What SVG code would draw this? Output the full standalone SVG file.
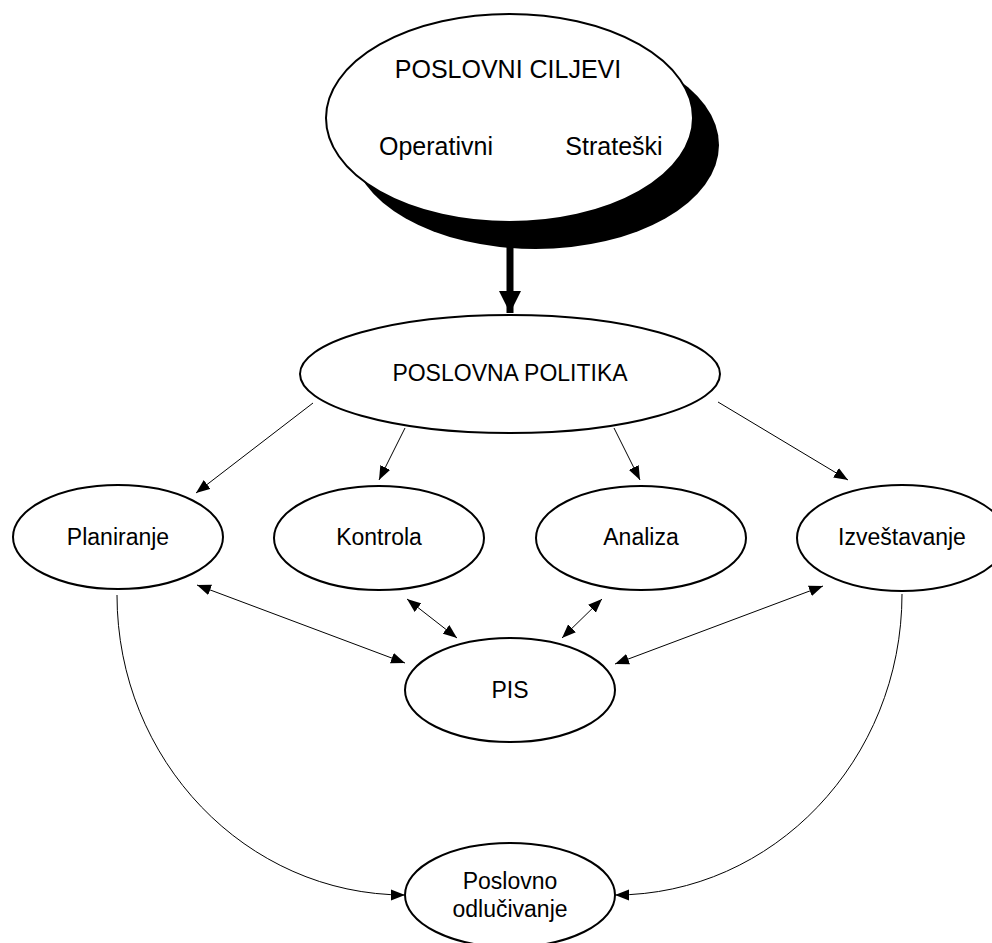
<svg xmlns="http://www.w3.org/2000/svg" width="992" height="943" viewBox="0 0 992 943">
  <style>
    .node { fill: #fff; stroke: #000; stroke-width: 2; }
    .label { font-family: "Liberation Sans", Arial, Helvetica, sans-serif; font-size: 23px; fill: #000; text-anchor: middle; }
    .big { font-size: 25px; }
    .link { fill: none; stroke: #000; stroke-width: 1; }
  </style>
  <defs>
    <marker id="head" markerUnits="userSpaceOnUse" markerWidth="15" markerHeight="12" viewBox="0 0 15 12" refX="14" refY="6" orient="auto-start-reverse">
      <path d="M0,0.5 L14,6 L0,11.5 Z" fill="#000"/>
    </marker>
    <marker id="bighead" markerUnits="userSpaceOnUse" markerWidth="24" markerHeight="22" viewBox="0 0 24 22" refX="22" refY="11" orient="auto">
      <path d="M0,0 L22,11 L0,22 Z" fill="#000"/>
    </marker>
  </defs>

  <!-- connectors -->
  <g id="connectors">
    <line x1="510" y1="247" x2="510" y2="313" stroke="#000" stroke-width="7" marker-end="url(#bighead)"/>
    <line class="link" x1="313" y1="403" x2="196" y2="493" marker-end="url(#head)"/>
    <line class="link" x1="405" y1="428" x2="379" y2="480" marker-end="url(#head)"/>
    <line class="link" x1="614" y1="428" x2="640" y2="480" marker-end="url(#head)"/>
    <line class="link" x1="718" y1="402" x2="848" y2="480" marker-end="url(#head)"/>
    <line class="link" x1="197" y1="585" x2="405" y2="663" marker-start="url(#head)" marker-end="url(#head)"/>
    <line class="link" x1="407" y1="599" x2="457" y2="638" marker-start="url(#head)" marker-end="url(#head)"/>
    <line class="link" x1="602" y1="599" x2="562" y2="638" marker-start="url(#head)" marker-end="url(#head)"/>
    <line class="link" x1="823" y1="586" x2="615" y2="664" marker-start="url(#head)" marker-end="url(#head)"/>
    <path class="link" d="M117,595 C117,760 246,895 405,895" marker-end="url(#head)"/>
    <path class="link" d="M902,594 C902,760 773,895 615,895" marker-end="url(#head)"/>
  </g>

  <!-- business goals, with drop shadow -->
  <g id="poslovni-ciljevi">
    <ellipse cx="535.5" cy="145" rx="183.5" ry="104" fill="#000"/>
    <ellipse class="node" cx="509.5" cy="118" rx="183.5" ry="104"/>
    <text class="label big" x="508" y="78">POSLOVNI CILJEVI</text>
    <text class="label big" x="436" y="155">Operativni</text>
    <text class="label big" x="614" y="155">Strateški</text>
  </g>

  <g id="poslovna-politika">
    <ellipse class="node" cx="510" cy="374" rx="210" ry="59"/>
    <text class="label" x="510" y="381">POSLOVNA POLITIKA</text>
  </g>

  <g id="planiranje">
    <ellipse class="node" cx="118" cy="537" rx="105" ry="52"/>
    <text class="label" x="118" y="545">Planiranje</text>
  </g>

  <g id="kontrola">
    <ellipse class="node" cx="379" cy="538" rx="105" ry="52"/>
    <text class="label" x="379" y="545">Kontrola</text>
  </g>

  <g id="analiza">
    <ellipse class="node" cx="641" cy="538" rx="105" ry="52"/>
    <text class="label" x="641" y="545">Analiza</text>
  </g>

  <g id="izvestavanje">
    <ellipse class="node" cx="902" cy="538" rx="105" ry="53"/>
    <text class="label" x="902" y="545">Izveštavanje</text>
  </g>

  <g id="pis">
    <ellipse class="node" cx="510" cy="690" rx="105" ry="52"/>
    <text class="label" x="510" y="698">PIS</text>
  </g>

  <g id="poslovno-odlucivanje">
    <ellipse class="node" cx="510" cy="895" rx="105" ry="52"/>
    <text class="label" x="510" y="889">Poslovno</text>
    <text class="label" x="510" y="917">odlučivanje</text>
  </g>
</svg>
